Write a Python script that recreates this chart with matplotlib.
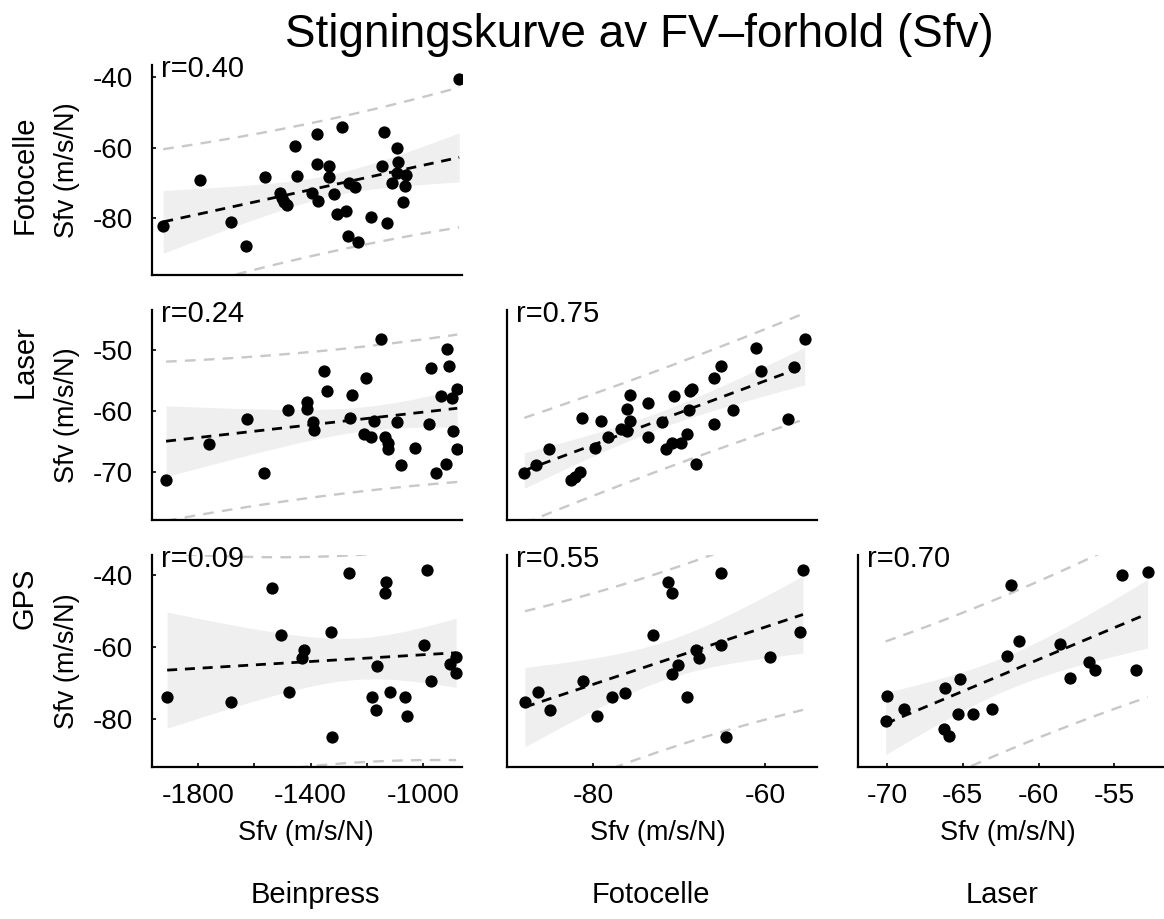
import numpy as np
import matplotlib.pyplot as plt

plt.rcParams['font.family'] = ['Liberation Sans', 'DejaVu Sans']
plt.rcParams['axes.unicode_minus'] = False

# row 1: Beinpress (x) vs Fotocelle (y)
bein_foto_x = [-1924, -1793, -1684, -1630, -1562, -1509, -1503, -1494, -1485, -1455,
               -1447, -1396, -1378, -1376, -1372, -1333, -1334, -1315, -1307, -1287,
               -1274, -1268, -1262, -1242, -1230, -1186, -1145, -1137, -1127, -1109,
               -1093, -1088, -1093, -1060, -1064, -1070, -871]
bein_foto_y = [-82.1, -69.2, -81.0, -87.8, -68.2, -72.9, -74.3, -75.3, -76.2, -59.6,
               -68.0, -72.9, -56.2, -64.7, -75.1, -65.2, -68.4, -73.2, -78.8, -54.1,
               -77.8, -84.9, -70.1, -71.1, -86.6, -79.5, -65.2, -55.5, -81.2, -69.9,
               -60.1, -64.2, -67.3, -67.8, -70.9, -75.5, -40.7]

# row 2: Beinpress vs Laser
bein_laser_x = [-1914, -1761, -1627, -1564, -1479, -1414, -1411, -1390, -1388, -1351,
                -1340, -1260, -1252, -1204, -1210, -1186, -1174, -1150, -1135, -1123,
                -1125, -1093, -1079, -1028, -978, -971, -955, -936, -919, -915,
                -906, -896, -878, -892, -880]
bein_laser_y = [-71.3, -65.4, -61.3, -70.1, -59.8, -58.5, -59.6, -61.8, -63.1, -53.5,
                -56.7, -61.2, -57.4, -54.5, -63.7, -64.2, -61.6, -48.2, -64.2, -65.2,
                -66.3, -61.8, -68.9, -66.0, -62.1, -52.9, -70.1, -57.6, -68.7, -49.8,
                -52.6, -57.9, -56.4, -63.2, -66.2]

# row 2: Fotocelle vs Laser
foto_laser_x = [-88.05, -86.7, -85.2, -82.6, -82.1, -81.6, -81.3, -79.8, -79.1, -78.3,
                -76.8, -76.1, -76.1, -75.7, -75.7, -73.7, -73.7, -72.0, -71.55, -70.9,
                -70.6, -69.8, -69.1, -68.9, -68.75, -68.5, -68.1, -66.0, -66.0, -65.1,
                -63.7, -61.1, -60.5, -57.3, -56.7, -55.4]
foto_laser_y = [-70.1, -68.9, -66.3, -71.3, -70.8, -70.0, -61.2, -66.0, -61.6, -64.2,
                -63.0, -63.2, -59.6, -57.4, -61.6, -58.6, -64.2, -61.8, -66.3, -65.2,
                -57.6, -65.3, -63.8, -59.8, -56.7, -56.3, -68.7, -62.1, -54.5, -52.6,
                -59.8, -49.7, -53.5, -61.3, -52.8, -48.2]

# row 3: Beinpress vs GPS
bein_gps_x = [-1910, -1683, -1536, -1506, -1477, -1431, -1422, -1327, -1325, -1262,
              -1180, -1168, -1162, -1132, -1135, -1117, -1064, -1058, -996, -987,
              -971, -904, -882, -882]
bein_gps_y = [-74.0, -75.4, -43.5, -56.6, -72.6, -63.0, -60.8, -55.7, -84.9, -39.5,
              -73.8, -77.5, -65.3, -41.8, -45.0, -72.6, -73.8, -79.1, -59.4, -38.6,
              -69.3, -64.7, -62.8, -67.3]

# row 3: Fotocelle vs GPS
foto_gps_x = [-87.97, -86.5, -85.0, -81.2, -79.55, -77.8, -76.3, -73.1, -71.3, -70.8,
              -70.8, -70.2, -69.1, -68.0, -67.7, -65.1, -65.1, -64.6, -59.4, -56.0, -55.6]
foto_gps_y = [-75.2, -72.6, -77.5, -69.3, -79.1, -74.0, -72.7, -56.6, -41.8, -44.9,
              -67.5, -65.0, -74.0, -60.8, -63.1, -39.3, -59.4, -84.9, -62.8, -55.7, -38.6]

# row 3: Laser vs GPS
laser_gps_x = [-70.0, -70.1, -68.9, -66.25, -65.9, -66.2, -65.2, -65.3, -64.3, -63.1,
               -62.1, -61.8, -61.3, -58.6, -57.9, -56.7, -56.3, -54.5, -53.6, -52.8]
laser_gps_y = [-73.5, -80.5, -77.2, -82.8, -84.6, -71.5, -69.0, -78.7, -78.7, -77.2,
               -62.5, -42.7, -58.3, -59.2, -68.7, -64.1, -66.4, -40.0, -66.4, -39.0]

r_labels = ['r=0.40', 'r=0.24', 'r=0.75', 'r=0.09', 'r=0.55', 'r=0.70']
row_names = ['Fotocelle', 'Laser', 'GPS']
col_names = ['Beinpress', 'Fotocelle', 'Laser']

panels = [
    (0, 0, bein_foto_x, bein_foto_y, r_labels[0]),
    (1, 0, bein_laser_x, bein_laser_y, r_labels[1]),
    (1, 1, foto_laser_x, foto_laser_y, r_labels[2]),
    (2, 0, bein_gps_x, bein_gps_y, r_labels[3]),
    (2, 1, foto_gps_x, foto_gps_y, r_labels[4]),
    (2, 2, laser_gps_x, laser_gps_y, r_labels[5]),
]

W, H = 1164, 919
col_left = [152, 506.7, 858.3]
col_w = [310, 310, 306]
row_top = [65, 310, 555]
row_bot = [275, 520, 766.7]
xlims = [(-1964, -861), (-90.1, -54.0), (-71.9, -51.7)]
ylims = [(-96, -36.7), (-77.9, -43.4), (-93.25, -34.4)]
xticks = [np.arange(-1800, -999, 200), [-80, -60], [-70, -65, -60, -55]]
yticks = [[-80, -60, -40], [-70, -60, -50], [-80, -60, -40]]


def tcrit(df):
    z = 1.959964
    return z + (z**3 + z) / (4 * df) + (5 * z**5 + 16 * z**3 + 3 * z) / (96 * df**2)


fig = plt.figure(figsize=(W / 100, H / 100), dpi=100)

for row, col, xv, yv, rtxt in panels:
    ax = fig.add_axes([col_left[col] / W, 1 - row_bot[row] / H,
                       col_w[col] / W, (row_bot[row] - row_top[row]) / H])
    x = np.array(xv, float)
    y = np.array(yv, float)
    n = len(x)
    b, a = np.polyfit(x, y, 1)
    res = y - (a + b * x)
    s = np.sqrt(np.sum(res**2) / (n - 2))
    sxx = np.sum((x - x.mean())**2)
    t = tcrit(n - 2)
    xs = np.linspace(x.min(), x.max(), 200)
    yh = a + b * xs
    ci = t * s * np.sqrt(1 / n + (xs - x.mean())**2 / sxx)
    pi = t * s * np.sqrt(1 + 1 / n + (xs - x.mean())**2 / sxx)

    ax.fill_between(xs, yh - ci, yh + ci, color='#efefef', lw=0, zorder=1)
    ax.plot(xs, yh + pi, color='#c8c8c8', lw=1.7, dashes=(4.5, 3.5), zorder=2)
    ax.plot(xs, yh - pi, color='#c8c8c8', lw=1.7, dashes=(4.5, 3.5), zorder=2)
    ax.scatter(x, y, s=78, color='black', lw=0, zorder=3)
    ax.plot(xs, yh, color='black', lw=2.0, dashes=(3.6, 2.8), zorder=4)

    ax.set_xlim(xlims[col])
    ax.set_ylim(ylims[row])
    for sp in ['top', 'right']:
        ax.spines[sp].set_visible(False)
    for sp in ['left', 'bottom']:
        ax.spines[sp].set_linewidth(1.6)

    ax.text(0.03, 0.943, rtxt, transform=ax.transAxes, fontsize=21,
            va='baseline', ha='left', zorder=5)

    if row == 2:
        ax.set_xticks(xticks[col])
        if col == 0:
            ax.set_xticklabels([str(v) if v % 400 == 200 else '' for v in xticks[col]])
        ax.tick_params(axis='x', direction='in', length=3, width=1.2, labelsize=20.5, pad=12)
    else:
        ax.set_xticks([])
    if col == 0:
        ax.set_yticks(yticks[row])
        ax.tick_params(axis='y', direction='in', length=3, width=1.2, labelsize=20, pad=14)
        ax.set_ylabel('Sfv (m/s/N)', fontsize=19.5)
        ax.yaxis.set_label_coords(-0.232, 0.5)
    else:
        ax.set_yticks([])

xlab_x = [306, 658, 1008]
col_lab_x = [315, 651, 1002]
for i in range(3):
    fig.text(xlab_x[i] / W, 1 - 833 / H, 'Sfv (m/s/N)', fontsize=19.5, ha='center', va='center')
    fig.text(col_lab_x[i] / W, 1 - 895 / H, col_names[i], fontsize=21, ha='center', va='center')

row_lab_y = [175, 362, 598]
for i in range(3):
    fig.text(25 / W, 1 - row_lab_y[i] / H, row_names[i], fontsize=21, rotation=90,
             ha='center', va='center')

fig.text(639 / W, 1 - 35 / H, 'Stigningskurve av FV\u2013forhold (Sfv)', fontsize=33,
         ha='center', va='center')

fig.savefig('out.png', dpi=100)
